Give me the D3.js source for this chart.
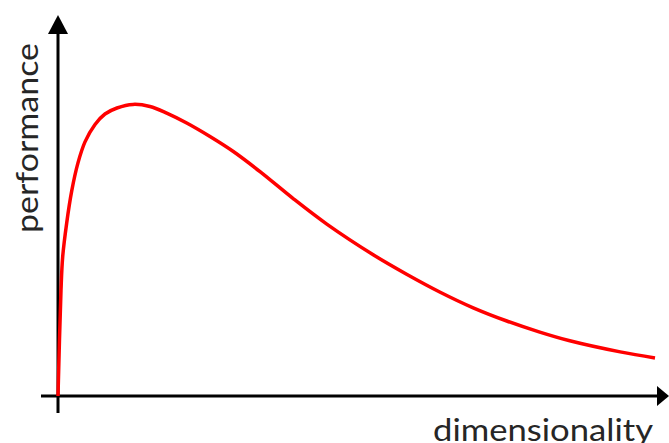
<!DOCTYPE html>
<html>
<head>
<meta charset="utf-8">
<script src="https://cdn.jsdelivr.net/npm/d3@7"></script>
<style>
  html, body { margin: 0; padding: 0; background: #fff; }
  svg { display: block; }
</style>
</head>
<body>
<script>
// Data: dimensionality (0-100) vs performance (0-100)
const dimensionality = [0, 0.5, 0.78, 1.45, 2.28, 3.33, 4.5, 6.17, 7.83, 9.83, 12.5, 15.33, 18.12, 21.45, 25.33, 29.22, 33.67, 39.2, 44.8, 52.6, 58.1, 63.7, 69.2, 74.8, 80.3, 85.3, 93.7, 99.5];
const performance = [0, 35.3, 46.4, 57.7, 68.3, 77.7, 84.7, 90.5, 94, 96, 97.2, 96.5, 94.3, 91, 86.5, 81.5, 74.8, 65.8, 57.3, 47.0, 40.6, 34.6, 29.4, 25.0, 21.3, 18.4, 14.7, 12.7];
const xLabel = "dimensionality";
const yLabel = "performance";

const W = 669, H = 443;
const svg = d3.select("body").append("svg").attr("width", W).attr("height", H);

const x = d3.scaleLinear().domain([0, 100]).range([58, 658]);
const y = d3.scaleLinear().domain([0, 100]).range([396, 96]);

// axes
svg.append("line")
  .attr("x1", x(0)).attr("x2", x(0))
  .attr("y1", 413).attr("y2", 32)
  .attr("stroke", "#000").attr("stroke-width", 3);
svg.append("path")
  .attr("d", `M${x(0)},15 L${x(0) - 10},34 L${x(0) + 10},34 Z`)
  .attr("fill", "#000");

svg.append("line")
  .attr("x1", 41).attr("x2", 660)
  .attr("y1", y(0)).attr("y2", y(0))
  .attr("stroke", "#000").attr("stroke-width", 3);
svg.append("path")
  .attr("d", `M669,${y(0)} L657,${y(0) - 10} L657,${y(0) + 10} Z`)
  .attr("fill", "#000");

// curve
const pts = dimensionality.map((d, i) => [d, performance[i]]);
const line = d3.line()
  .x(d => x(d[0]))
  .y(d => y(d[1]))
  .curve(d3.curveCatmullRom.alpha(0.5));
svg.append("path")
  .attr("d", line(pts))
  .attr("fill", "none")
  .attr("stroke", "#ff0000")
  .attr("stroke-width", 3.5)
  .attr("stroke-linecap", "butt");

// labels
svg.append("text")
  .attr("x", 433).attr("y", 441)
  .attr("font-family", "Lato, 'Open Sans', sans-serif")
  .attr("font-size", 31)
  .attr("fill", "#262626")
  .attr("textLength", 220)
  .attr("lengthAdjust", "spacingAndGlyphs")
  .text(xLabel);

svg.append("text")
  .attr("transform", "translate(38,233) rotate(-90)")
  .attr("font-family", "Lato, 'Open Sans', sans-serif")
  .attr("font-size", 31)
  .attr("fill", "#262626")
  .attr("textLength", 190)
  .attr("lengthAdjust", "spacingAndGlyphs")
  .text(yLabel);
</script>
</body>
</html>
